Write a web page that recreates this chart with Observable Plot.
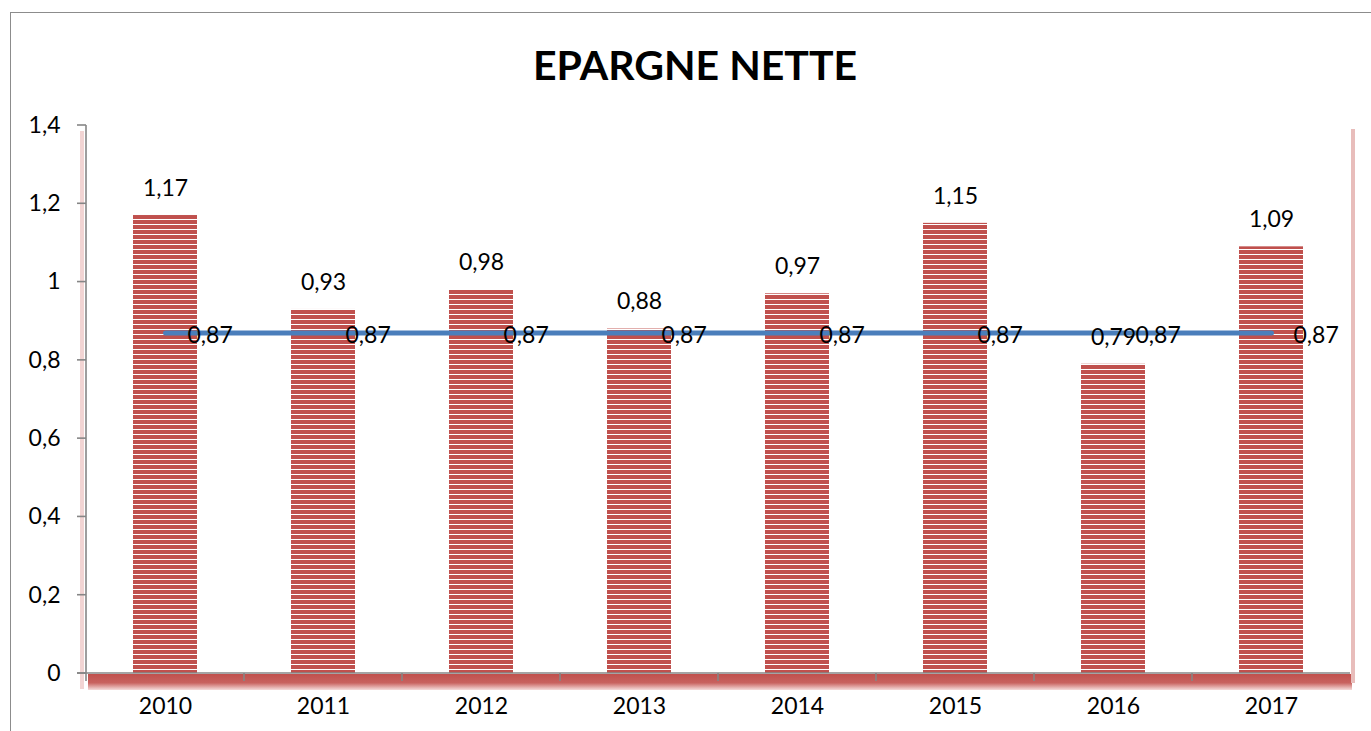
<!DOCTYPE html>
<html><head><meta charset="utf-8">
<script src="https://cdn.jsdelivr.net/npm/d3@7"></script>
<script src="https://cdn.jsdelivr.net/npm/@observablehq/plot@0.6"></script>
<style>
body{margin:0;background:#fff;width:1371px;height:731px;overflow:hidden;position:relative;font-family:Lato,"Open Sans",sans-serif;color:#000}
#frame{position:absolute;left:10px;top:12px;width:1400px;height:800px;border-left:1.5px solid #8c8c8c;border-top:1.5px solid #8c8c8c}
#title{position:absolute;top:40px;left:0;width:1390px;text-align:center;font-weight:bold;font-size:41px;line-height:50px}
#chart{position:absolute;top:100px;left:0}
</style></head>
<body>
<svg width="0" height="0" style="position:absolute"><defs>
<pattern id="stripes" patternUnits="userSpaceOnUse" width="10" height="5"><rect x="0" y="0" width="10" height="4" fill="#C0504D" shape-rendering="crispEdges"/></pattern>
<linearGradient id="floor" x1="0" y1="0" x2="0" y2="1"><stop offset="0" stop-color="#C0504D"/><stop offset="0.55" stop-color="#C8625F"/><stop offset="1" stop-color="#F5DCDB"/></linearGradient>
</defs></svg>
<div id="frame"></div>
<div id="title">EPARGNE NETTE</div>
<div id="chart"></div>
<script>
const years = ["2010","2011","2012","2013","2014","2015","2016","2017"];
const values = [1.17,0.93,0.98,0.88,0.97,1.15,0.79,1.09];
const average = [0.87,0.87,0.87,0.87,0.87,0.87,0.87,0.87];
const yTicks = [0,0.2,0.4,0.6,0.8,1,1.2,1.4];

const data = years.map((year,i)=>({year, value:values[i], avg:average[i]}));
const fmt = v => String(v).replace(".", ",");

function geom(x){
  const bw = typeof x.bandwidth === "function" ? x.bandwidth() : 0;
  const step = x(years[1]) - x(years[0]);
  return {bw, step};
}

function backDecor(index, {x, y}, values, dims){
  const g = d3.create("svg:g");
  const L = dims.marginLeft, R = dims.width - dims.marginRight;
  const y0 = y(0), yTop = y(1.4);
  g.append("rect").attr("x", L+2).attr("y", y0+1).attr("width", R-L).attr("height", 16).attr("fill","url(#floor)");
  g.append("rect").attr("x", L-6).attr("y", yTop+6).attr("width", 4).attr("height", y0-yTop+10).attr("fill","#F2D4D3");
  g.append("rect").attr("x", R+1).attr("y", yTop+4).attr("width", 4).attr("height", y0-yTop+6).attr("fill","#E8BDBB");
  return g.node();
}

function frontAxes(index, {x, y}, values, dims){
  const g = d3.create("svg:g").attr("stroke","#868686").attr("stroke-width",1.6);
  const L = dims.marginLeft, R = dims.width - dims.marginRight;
  const y0 = y(0), yTop = y(1.4);
  g.append("line").attr("x1",L).attr("x2",L).attr("y1",yTop).attr("y2",y0+8);
  g.append("line").attr("x1",L-9).attr("x2",R).attr("y1",y0).attr("y2",y0);
  yTicks.forEach(t=>{
    g.append("line").attr("x1",L-9).attr("x2",L).attr("y1",y(t)).attr("y2",y(t));
  });
  const {bw, step} = geom(x);
  years.forEach(c=>{
    const b = x(c) + bw/2 + step/2;
    if (b < R - 2) g.append("line").attr("x1",b).attr("x2",b).attr("y1",y0).attr("y2",y0+8);
  });
  return g.node();
}

const chart = Plot.plot({
  width:1371, height:631,
  marginLeft:86, marginRight:21, marginTop:25, marginBottom:58,
  style:{fontFamily:"Lato, 'Open Sans', sans-serif", color:"#000", background:"transparent"},
  x:{domain:years, paddingInner:0.595, paddingOuter:0.2975, align:0.5},
  y:{domain:[0,1.4]},
  marks:[
    backDecor,
    Plot.barY(data,{x:"year", y:"value", fill:"url(#stripes)"}),
    Plot.lineY(data,{x:"year", y:"avg", stroke:"#4A7EBB", strokeWidth:5}),
    Plot.text(data,{x:"year", y:"value", text:d=>fmt(d.value), dy:-27, fontSize:23, fill:"#000"}),
    Plot.text(data,{x:"year", y:"avg", text:d=>fmt(d.avg), dx:22, dy:3, textAnchor:"start", fontSize:23, fill:"#000"}),
    Plot.axisY({ticks:yTicks, tickFormat:fmt, tickSize:0, tickPadding:26, fontSize:23, label:null}),
    Plot.axisX({tickSize:0, tickPadding:24, fontSize:23, label:null}),
    frontAxes
  ]
});
document.getElementById("chart").appendChild(chart);
</script>
</body></html>
